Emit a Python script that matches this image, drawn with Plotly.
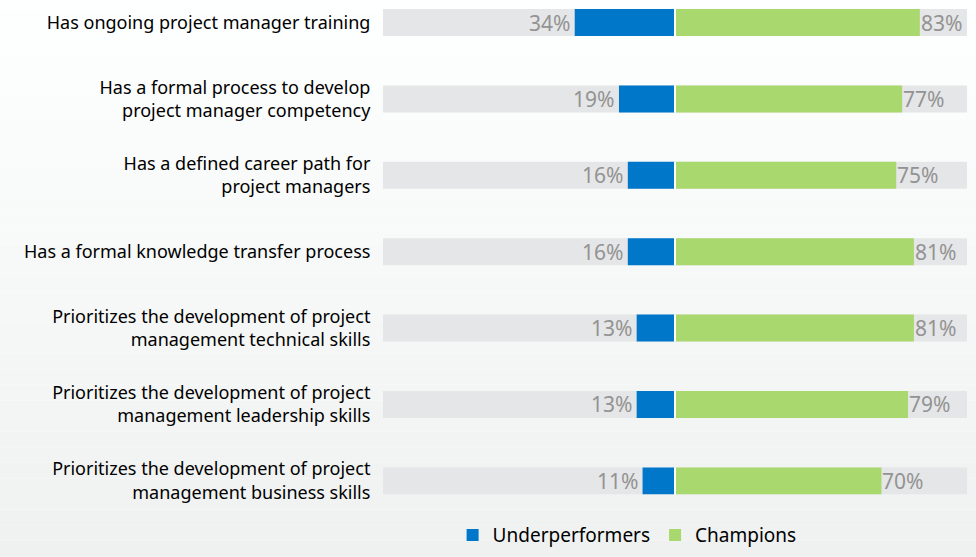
import plotly.graph_objects as go

categories = [
    "Has ongoing project manager training",
    "Has a formal process to develop<br>project manager competency",
    "Has a defined career path for<br>project managers",
    "Has a formal knowledge transfer process",
    "Prioritizes the development of project<br>management technical skills",
    "Prioritizes the development of project<br>management leadership skills",
    "Prioritizes the development of project<br>management business skills",
]
underperformers = [34, 19, 16, 16, 13, 13, 11]
champions = [83, 77, 75, 81, 81, 79, 70]
full_scale = 99

BLUE = "#0077c8"
GREEN = "#a9d86e"
GREY = "#e5e6e7"
LABEL = "#939393"

# bottom-to-top order so the first category sits at the top
cats = categories[::-1]
und = underperformers[::-1]
cha = champions[::-1]

fig = go.Figure()
fig.add_trace(go.Bar(y=cats, x=[-full_scale] * len(cats), orientation="h",
                     marker=dict(color=GREY, line_width=0), showlegend=False, hoverinfo="skip"))
fig.add_trace(go.Bar(y=cats, x=[full_scale] * len(cats), orientation="h",
                     marker=dict(color=GREY, line_width=0), showlegend=False, hoverinfo="skip"))
fig.add_trace(go.Bar(y=cats, x=[-v for v in und], orientation="h", name="Underperformers",
                     marker=dict(color=BLUE, line_width=0)))
fig.add_trace(go.Bar(y=cats, x=cha, orientation="h", name="Champions",
                     marker=dict(color=GREEN, line_width=0)))

for c, u, ch in zip(cats, und, cha):
    fig.add_annotation(x=-u, y=c, text=f"{u}%", showarrow=False, xanchor="right",
                       xshift=-3, font=dict(color=LABEL, size=21, family="Noto Sans"))
    fig.add_annotation(x=ch, y=c, text=f"{ch}%", showarrow=False, xanchor="left",
                       xshift=-1, font=dict(color=LABEL, size=21, family="Noto Sans"))

shapes = []
# background vertical gradient
n = 40
for i in range(n):
    t = i / (n - 1)
    g0 = 255 - round(16 * t)
    col = f"rgb({g0},{min(255, g0 + 1)},{min(255, g0 + 1)})"
    shapes.append(dict(type="rect", xref="paper", yref="paper", layer="below",
                       x0=-1, x1=2, y0=1.1 - (i + 1) * (1.2 / n), y1=1.1 - i * (1.2 / n),
                       fillcolor=col, line_width=0))
# white divider at zero, only across the bars
for i in range(len(cats)):
    shapes.append(dict(type="line", xref="x", yref="y", x0=0, x1=0, y0=i - 0.18, y1=i + 0.18,
                       line=dict(color="white", width=2), layer="above"))

fig.update_layout(
    width=976, height=557,
    margin=dict(l=383, r=9, t=0, b=37),
    paper_bgcolor="white", plot_bgcolor="rgba(0,0,0,0)",
    barmode="overlay", bargap=0.647,
    font=dict(family="Noto Sans", color="black"),
    shapes=shapes,
    hovermode=False,
    legend=dict(orientation="h", x=0.418, xanchor="center", y=-0.029, yanchor="middle",
                font=dict(size=19, color="black", family="Noto Sans"),
                bgcolor="rgba(0,0,0,0)", itemsizing="constant"),
    xaxis=dict(range=[-full_scale, full_scale], visible=False, fixedrange=True),
    yaxis=dict(range=[-0.512, 6.2945], showgrid=False, zeroline=False, fixedrange=True,
               ticks="outside", ticklen=8, tickcolor="rgba(0,0,0,0)",
               tickfont=dict(size=18, color="black", family="Noto Sans")),
)

fig.write_html("out.html", post_script="document.body.style.margin='0';",
               config={"displayModeBar": False})
